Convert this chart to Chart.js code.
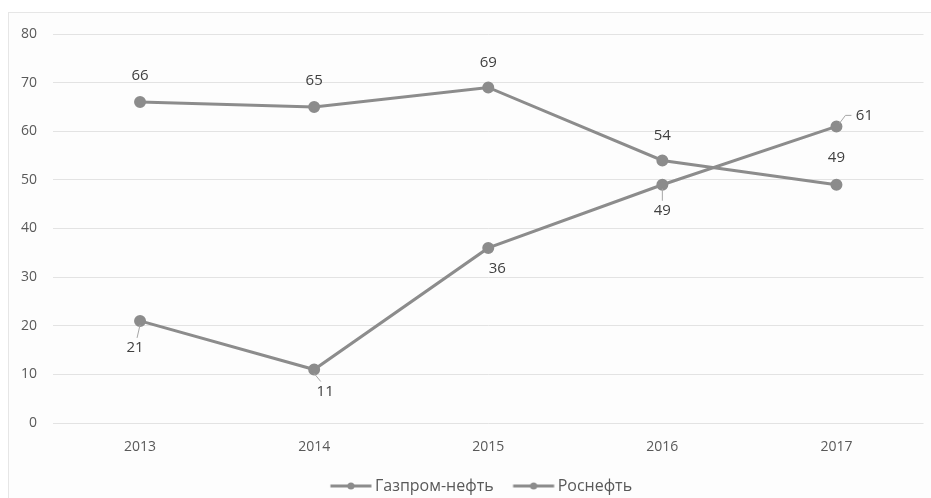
<!DOCTYPE html>
<html>
<head>
<meta charset="utf-8">
<script src="https://cdn.jsdelivr.net/npm/chart.js@4"></script>
<style>
  html, body { margin: 0; padding: 0; background: #ffffff; }
  #wrap { position: relative; width: 931px; height: 498px; }
</style>
</head>
<body>
<div id="wrap"><canvas id="chartOil"></canvas></div>
<script>
const YEARS = ["2013", "2014", "2015", "2016", "2017"];
const gazpromNeft = [21, 11, 36, 49, 61];
const rosneft = [66, 65, 69, 54, 49];
const Y_TICKS = [0, 10, 20, 30, 40, 50, 60, 70, 80];

const LINE_COLOR = "rgb(140, 140, 140)";
const FONT = "'Open Sans', 'DejaVu Sans', sans-serif";

// label offsets relative to the point (style only)
const gazpromLabelPos = [
    { dx: -5, dy: 27, leader: true },
    { dx: 11, dy: 22, leader: true },
    { dx: 9, dy: 21, leader: false },
    { dx: 0, dy: 26, leader: true },
    { dx: 28, dy: -11, leader: true, side: true },
];
const rosneftLabelPos = [
    { dx: 0, dy: -26 }, { dx: 0, dy: -26 }, { dx: 0, dy: -25 },
    { dx: 0, dy: -25 }, { dx: 0, dy: -27 },
];

function makeLegendMarker() {
    // transparent space on the left gives the gap between legend items
    const c = document.createElement("canvas");
    c.width = 64; c.height = 10;
    const g = c.getContext("2d");
    g.strokeStyle = LINE_COLOR;
    g.lineWidth = 3;
    g.beginPath(); g.moveTo(21.5, 5); g.lineTo(62.5, 5); g.stroke();
    g.fillStyle = LINE_COLOR;
    g.beginPath(); g.arc(42, 5, 3.5, 0, Math.PI * 2); g.fill();
    return c;
}

const frameBorder = {
    id: "frameBorder",
    beforeDraw(chart) {
        const ctx = chart.ctx;
        ctx.save();
        ctx.fillStyle = "#fdfdfd";
        ctx.fillRect(8, 12, chart.width, chart.height);
        ctx.strokeStyle = "#e6e6e6";
        ctx.lineWidth = 1;
        ctx.strokeRect(8.5, 12.5, chart.width + 5, chart.height + 5);
        ctx.restore();
    },
    afterLayout(chart) {
        // nudge the legend a little to the right, like the original
        chart.legend.left += 11;
        chart.legend.right += 11;
    }
};

const valueLabels = {
    id: "valueLabels",
    afterDatasetsDraw(chart) {
        const ctx = chart.ctx;
        ctx.save();
        ctx.font = "15px " + FONT;
        ctx.fillStyle = "#404040";
        ctx.textAlign = "center";
        ctx.textBaseline = "middle";
        chart.data.datasets.forEach((ds, i) => {
            const meta = chart.getDatasetMeta(i);
            meta.data.forEach((pt, j) => {
                const pos = ds.labelPos[j];
                const lx = pt.x + pos.dx, ly = pt.y + pos.dy;
                if (pos.leader) {
                    ctx.strokeStyle = "#a6a6a6";
                    ctx.lineWidth = 1;
                    ctx.beginPath();
                    if (pos.side) {
                        ctx.moveTo(pt.x + 3, pt.y - 3);
                        ctx.lineTo(lx - 19, ly);
                        ctx.lineTo(lx - 13, ly);
                    } else {
                        ctx.moveTo(pt.x, pt.y + 4);
                        ctx.lineTo(pt.x + (lx - pt.x) * 0.6, ly - 10);
                    }
                    ctx.stroke();
                }
                ctx.fillText(String(ds.data[j]), lx, ly);
            });
        });
        ctx.restore();
    }
};

function createOilChart() {
    const data = {
        labels: YEARS,
        datasets: [{
            label: "Газпром-нефть",
            data: gazpromNeft,
            labelPos: gazpromLabelPos,
            borderColor: LINE_COLOR,
            backgroundColor: LINE_COLOR,
            borderWidth: 3,
            pointRadius: 4.5,
            pointHoverRadius: 4.5,
            tension: 0,
        },
        {
            label: "Роснефть",
            data: rosneft,
            labelPos: rosneftLabelPos,
            borderColor: LINE_COLOR,
            backgroundColor: LINE_COLOR,
            borderWidth: 3,
            pointRadius: 4.5,
            pointHoverRadius: 4.5,
            tension: 0,
        }]
    };

    const config = {
        type: "line",
        data: data,
        options: {
            responsive: true,
            maintainAspectRatio: false,
            animation: false,
            layout: { padding: { top: 34, right: 6, left: 0, bottom: -6 } },
            plugins: {
                legend: {
                    position: "bottom",
                    labels: {
                        usePointStyle: true,
                        pointStyle: makeLegendMarker(),
                        pointStyleWidth: 52,
                        boxHeight: 10,
                        color: "#595959",
                        font: { family: FONT, size: 16 },
                        padding: 4,
                    }
                },
                tooltip: { enabled: false },
            },
            scales: {
                x: {
                    offset: true,
                    afterFit: (axis) => { axis.height = 51; },
                    grid: { display: false },
                    border: { display: false },
                    ticks: { color: "#595959", font: { family: FONT, size: 14 }, padding: 8 },
                },
                y: {
                    min: 0,
                    max: 80,
                    afterBuildTicks: (axis) => { axis.ticks = Y_TICKS.map(v => ({ value: v })); },
                    afterFit: (axis) => { axis.width = 53; },
                    grid: { color: "#e3e3e3", lineWidth: 1, drawTicks: false },
                    border: { display: false },
                    ticks: { color: "#595959", font: { family: FONT, size: 14 }, padding: 16 },
                }
            }
        },
        plugins: [frameBorder, valueLabels]
    };

    return new Chart(document.getElementById("chartOil"), config);
}

const chartOil = createOilChart();
</script>
</body>
</html>
